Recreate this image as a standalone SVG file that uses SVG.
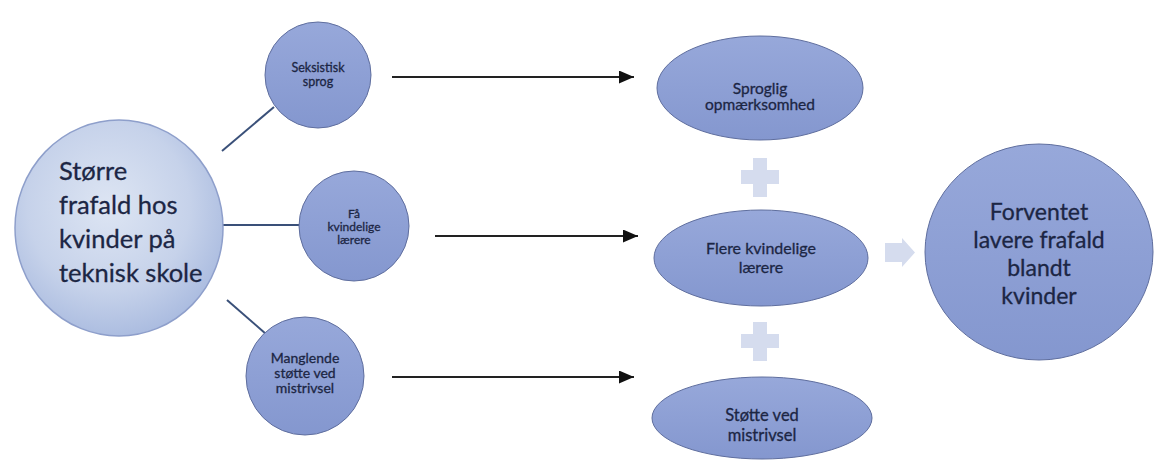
<svg xmlns="http://www.w3.org/2000/svg" width="1154" height="461" viewBox="0 0 1154 461">
  <style>
    .node { fill: url(#gNode); stroke: #5f6e9e; stroke-width: 1; }
    .lbl { font-family: Lato, "Liberation Sans", sans-serif; fill: #1c2644; stroke: #1c2644; stroke-width: 0.3; text-anchor: middle; }
    .link { stroke: #3a5079; stroke-width: 2; fill: none; }
    .arrow { stroke: #222; stroke-width: 2.2; fill: none; marker-end: url(#ah); }
    .light { fill: #d5dcee; }
  </style>
  <defs>
    <linearGradient id="gNode" x1="0" y1="0" x2="0" y2="1">
      <stop offset="0" stop-color="#97a8da"/>
      <stop offset="1" stop-color="#8497cf"/>
    </linearGradient>
    <radialGradient id="gBig" cx="0.45" cy="0.4" r="0.65">
      <stop offset="0" stop-color="#dde5f3"/>
      <stop offset="0.6" stop-color="#c6d2ea"/>
      <stop offset="1" stop-color="#a6b8de"/>
    </radialGradient>
    <marker id="ah" viewBox="0 0 15 13" refX="15" refY="6.5" markerWidth="15" markerHeight="13" markerUnits="userSpaceOnUse" orient="auto">
      <path d="M0,0 L15,6.5 L0,13 Z" fill="#111"/>
    </marker>
  </defs>
  <rect width="1154" height="461" fill="#ffffff"/>

  <g id="connectors">
    <line class="link" x1="222" y1="151" x2="274" y2="107"/>
    <line class="link" x1="220" y1="225" x2="300" y2="225"/>
    <line class="link" x1="227" y1="300" x2="266" y2="334"/>
    <line class="arrow" x1="392" y1="77" x2="634" y2="77"/>
    <line class="arrow" x1="435" y1="236" x2="638" y2="236"/>
    <line class="arrow" x1="392" y1="377" x2="634" y2="377"/>
  </g>

  <g id="n-main">
    <ellipse cx="119" cy="228" rx="104" ry="108" fill="url(#gBig)" stroke="#8e9fcb" stroke-width="1.5"/>
    <text class="lbl" style="text-anchor:start" font-size="25.5" x="59">
      <tspan x="59" y="180">Større</tspan>
      <tspan x="59" y="214">frafald hos</tspan>
      <tspan x="59" y="248">kvinder på</tspan>
      <tspan x="59" y="282">teknisk skole</tspan>
    </text>
  </g>

  <g id="n-seksistisk">
    <circle class="node" cx="318" cy="75" r="53"/>
    <text class="lbl" font-size="12.5"><tspan x="318" y="72">Seksistisk</tspan><tspan x="318" y="86">sprog</tspan></text>
  </g>

  <g id="n-faa">
    <circle class="node" cx="354" cy="226" r="55"/>
    <text class="lbl" font-size="12"><tspan x="354" y="218">Få</tspan><tspan x="354" y="231">kvindelige</tspan><tspan x="354" y="244">lærere</tspan></text>
  </g>

  <g id="n-manglende">
    <circle class="node" cx="305" cy="376" r="59"/>
    <text class="lbl" font-size="14"><tspan x="305" y="363">Manglende</tspan><tspan x="305" y="378">støtte ved</tspan><tspan x="305" y="393">mistrivsel</tspan></text>
  </g>

  <g id="n-sproglig">
    <ellipse class="node" cx="760" cy="88" rx="103" ry="52"/>
    <text class="lbl" font-size="15.5"><tspan x="760" y="94">Sproglig</tspan><tspan x="760" y="110">opmærksomhed</tspan></text>
  </g>

  <g id="plus1">
    <rect class="light" x="753" y="158" width="14" height="39"/>
    <rect class="light" x="741" y="170" width="38" height="14"/>
  </g>

  <g id="n-flere">
    <ellipse class="node" cx="761" cy="258" rx="107" ry="48"/>
    <text class="lbl" font-size="16"><tspan x="761" y="254">Flere kvindelige</tspan><tspan x="761" y="273">lærere</tspan></text>
  </g>

  <g id="plus2">
    <rect class="light" x="753" y="322" width="14" height="39"/>
    <rect class="light" x="741" y="334" width="38" height="14"/>
  </g>

  <g id="n-stoette">
    <ellipse class="node" cx="762" cy="418" rx="110" ry="41"/>
    <text class="lbl" font-size="16.5"><tspan x="762" y="421">Støtte ved</tspan><tspan x="762" y="441">mistrivsel</tspan></text>
  </g>

  <g id="blockarrow">
    <path class="light" d="M885,243 L902,243 L902,238 L915,252.5 L902,267 L902,262 L885,262 Z"/>
  </g>

  <g id="n-result">
    <ellipse class="node" cx="1039" cy="252" rx="114" ry="108"/>
    <text class="lbl" font-size="23"><tspan x="1039" y="220">Forventet</tspan><tspan x="1039" y="248">lavere frafald</tspan><tspan x="1039" y="276">blandt</tspan><tspan x="1039" y="304">kvinder</tspan></text>
  </g>
</svg>
